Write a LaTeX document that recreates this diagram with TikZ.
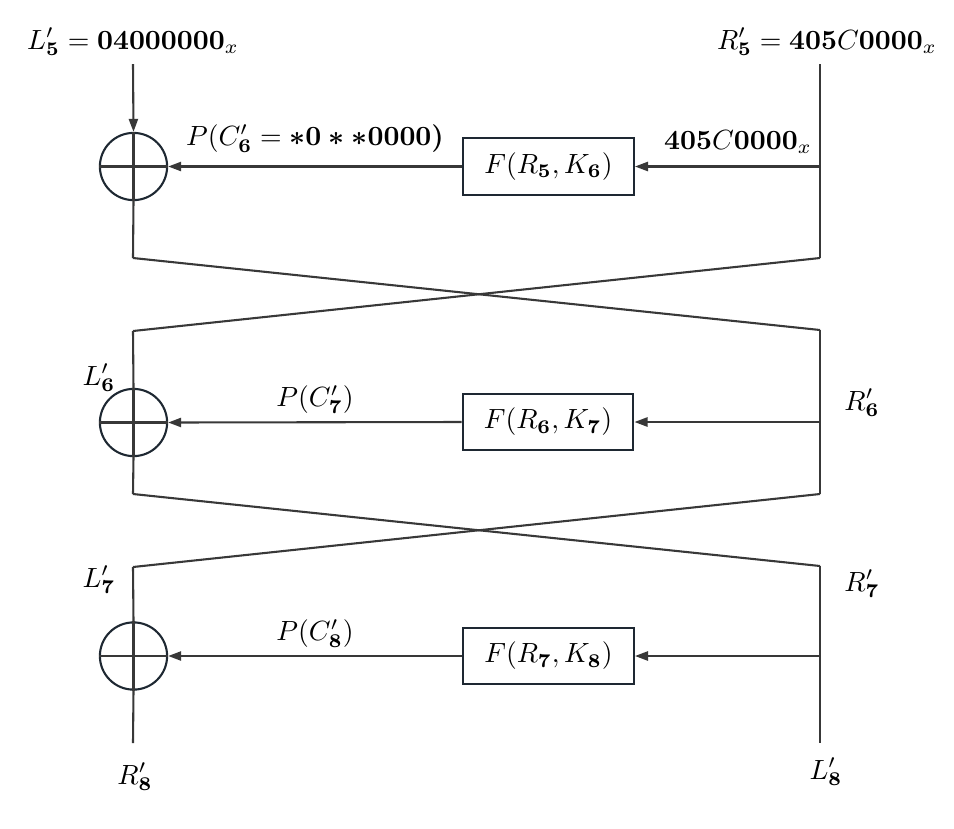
\documentclass[tikz,border=0pt]{standalone}
\usepackage{amsmath}
\usetikzlibrary{arrows.meta}
\definecolor{linec}{HTML}{383838}
\definecolor{edgec}{HTML}{1E2832}
\begin{document}
\begin{tikzpicture}[x=0.36pt,y=-0.36pt,
  line width=0.75pt,
  wire/.style={draw=linec},
  arr/.style={draw=linec,-{Triangle[length=4.7pt,width=3.3pt]}},
  xorc/.style={circle,draw=edgec,minimum size=24.2pt,inner sep=0pt},
  fbox/.style={rectangle,draw=edgec,fill=white,minimum width=61.5pt,minimum height=20.3pt,inner sep=0pt},
  lbl/.style={inner sep=0pt}]
\useasboundingbox (0,0) rectangle (954,828);

% input labels
\node[lbl] (L5) at (133,42) {$L'_{\mathbf5}=\mathbf{04000000}_x$};
\node[lbl] (R5) at (827,42) {$R'_{\mathbf5}=\mathbf{405}C\mathbf{0000}_x$};

% round 1
\coordinate (l1t) at (133,64);
\coordinate (r1t) at (820,64);
\node[xorc] (x1) at (133.5,166.5) {};
\node[fbox] (f1) at (548.5,166.5) {$F(R_{\mathbf5},K_{\mathbf6})$};
\coordinate (r1m) at (820,166.5);
\coordinate (l1b) at (133,258);
\coordinate (r1b) at (820,258);
\node[lbl] (d1) at (738,142) {$\mathbf{405}C\mathbf{0000}_x$};
\node[lbl] (p1) at (315,139) {$P(C'_{\mathbf6}=\boldsymbol{*0**0000)}$};

\draw[arr] (l1t) -- (x1.north);
\draw[wire] (x1.north) -- (x1.south) (x1.west) -- (x1.east);
\draw[wire] (r1t) -- (r1b);
\draw[arr] (r1m) -- (f1.east);
\draw[arr] (f1.west) -- (x1.east);
\draw[wire] (x1.south) -- (l1b);

% round 2
\coordinate (l2t) at (133,331);
\coordinate (r2t) at (820,330);
\node[xorc] (x2) at (133.5,422.5) {};
\node[fbox] (f2) at (548,422) {$F(R_{\mathbf6},K_{\mathbf7})$};
\coordinate (r2m) at (820,422);
\coordinate (l2b) at (133,494);
\coordinate (r2b) at (820,494);
\node[lbl] (lL6) at (99,378) {$L'_{\mathbf6}$};
\node[lbl] (lR6) at (862,403) {$R'_{\mathbf6}$};
\node[lbl] (p2) at (315,400) {$P(C'_{\mathbf7})$};

\draw[wire] (l1b) -- (r2t);
\draw[wire] (r1b) -- (l2t);
\draw[wire] (l2t) -- (x2.north);
\draw[wire] (x2.north) -- (x2.south) (x2.west) -- (x2.east);
\draw[wire] (r2t) -- (r2b);
\draw[arr] (r2m) -- (f2.east);
\draw[arr] (f2.west) -- (x2.east);
\draw[wire] (x2.south) -- (l2b);

% round 3
\coordinate (l3t) at (133,567);
\coordinate (r3t) at (820,566);
\node[xorc] (x3) at (133.5,656) {};
\node[fbox] (f3) at (548.5,656) {$F(R_{\mathbf7},K_{\mathbf8})$};
\coordinate (r3m) at (820,656);
\coordinate (l3b) at (133,743);
\coordinate (r3b) at (820,743);
\node[lbl] (lL7) at (99,580) {$L'_{\mathbf7}$};
\node[lbl] (lR7) at (862,584) {$R'_{\mathbf7}$};
\node[lbl] (p3) at (315,634) {$P(C'_{\mathbf8})$};
\node[lbl] (lR8) at (135,777) {$R'_{\mathbf8}$};
\node[lbl] (lL8) at (826,772) {$L'_{\mathbf8}$};

\draw[wire] (l2b) -- (r3t);
\draw[wire] (r2b) -- (l3t);
\draw[wire] (l3t) -- (x3.north);
\draw[wire] (x3.north) -- (x3.south) (x3.west) -- (x3.east);
\draw[wire] (r3t) -- (r3b);
\draw[arr] (r3m) -- (f3.east);
\draw[arr] (f3.west) -- (x3.east);
\draw[wire] (x3.south) -- (l3b);
\end{tikzpicture}
\end{document}
